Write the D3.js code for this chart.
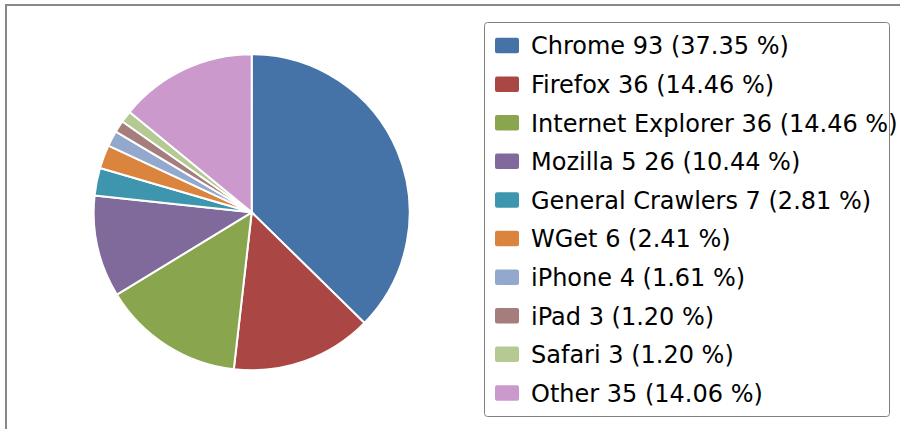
<!DOCTYPE html>
<html>
<head>
<meta charset="utf-8">
<script src="https://cdn.jsdelivr.net/npm/d3@7"></script>
<style>
  body { margin: 0; background: #fff; }
  svg { display: block; font-family: "DejaVu Sans", sans-serif; }
</style>
</head>
<body>
<div id="chart"></div>
<script>
// Browser share data
const names = ["Chrome", "Firefox", "Internet Explorer", "Mozilla 5", "General Crawlers",
               "WGet", "iPhone", "iPad", "Safari", "Other"]
const counts = [93, 36, 36, 26, 7, 6, 4, 3, 3, 35]
const colours = ["#4572A7", "#AA4643", "#89A54E", "#80699B", "#3D96AE",
                 "#DB843D", "#92A8CD", "#A47D7C", "#B5CA92", "#CC99CC"]

const WIDTH = 900
const HEIGHT = 429
const PIE = {CX: 251.7, CY: 212.3, R: 158}
const LEGEND = {X: 484, Y: 22, W: 405, H: 394, ROW: 38.6}

let total = d3.sum(counts)
let data = names.map((n, i) => ({name: n, value: counts[i], colour: colours[i]}))

let svg = d3.select("#chart").append("svg")
    .attr("width", WIDTH)
    .attr("height", HEIGHT)

// frame edges (top and left of the outer box)
svg.append("line")
    .attr("x1", 5).attr("x2", WIDTH).attr("y1", 5).attr("y2", 5)
    .style("stroke", "#888").style("stroke-width", 2)
svg.append("line")
    .attr("x1", 6).attr("x2", 6).attr("y1", 4).attr("y2", HEIGHT)
    .style("stroke", "#888").style("stroke-width", 2)

// pie, clockwise from 12 o'clock
let pie = d3.pie().sort(null).value(d => d.value)
let arc = d3.arc().innerRadius(0).outerRadius(PIE.R)

svg.append("g")
    .attr("transform", "translate(" + PIE.CX + "," + PIE.CY + ")")
    .selectAll("path")
    .data(pie(data))
    .enter()
    .append("path")
    .attr("d", arc)
    .style("fill", d => d.data.colour)
    .style("stroke", "#fff")
    .style("stroke-width", 2)
    .style("stroke-linejoin", "round")

// legend
let legend = svg.append("g")

legend.append("rect")
    .attr("x", LEGEND.X + 0.5).attr("y", LEGEND.Y + 0.5)
    .attr("width", LEGEND.W).attr("height", LEGEND.H)
    .attr("rx", 3)
    .style("fill", "#fff")
    .style("stroke", "#808080")
    .style("stroke-width", 1)

let rowY = d3.scaleLinear().domain([0, 1]).range([54.3, 54.3 + LEGEND.ROW])

let rows = legend.selectAll("g.row")
    .data(data)
    .enter()
    .append("g")
    .attr("class", "row")
    .attr("transform", (d, i) => "translate(0," + rowY(i) + ")")

rows.append("rect")
    .attr("x", 495).attr("y", -16.5)
    .attr("width", 24).attr("height", 15.5)
    .attr("rx", 2)
    .style("fill", d => d.colour)

rows.append("text")
    .attr("x", 531).attr("y", 0)
    .style("font-size", "24px")
    .style("fill", "#000")
    .text(d => d.name + " " + d.value + " (" + (d.value / total * 100).toFixed(2) + " %)")
</script>
</body>
</html>
